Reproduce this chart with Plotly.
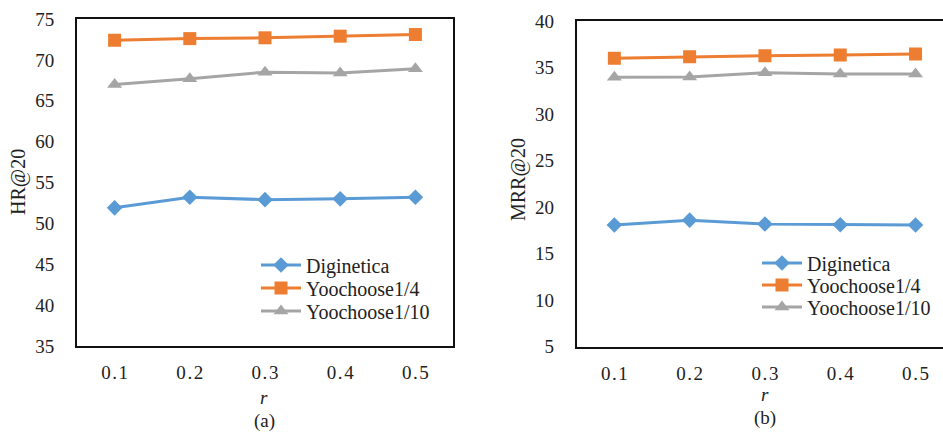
import plotly.graph_objects as go

r_labels = ["0.1", "0.2", "0.3", "0.4", "0.5"]
tick_text = ["0\u200a.\u200a1", "0\u200a.\u200a2", "0\u200a.\u200a3", "0\u200a.\u200a4", "0\u200a.\u200a5"]
series_names = ["Diginetica", "Yoochoose1/4", "Yoochoose1/10"]

hr_diginetica = [51.9, 53.2, 52.9, 53.0, 53.2]
hr_yoo4 = [72.4, 72.6, 72.7, 72.9, 73.1]
hr_yoo10 = [67.0, 67.7, 68.5, 68.4, 68.9]

mrr_diginetica = [18.08, 18.6, 18.18, 18.1, 18.08]
mrr_yoo4 = [36.0, 36.16, 36.27, 36.35, 36.45]
mrr_yoo10 = [33.95, 33.98, 34.44, 34.3, 34.3]

colors = ["#5B9BD5", "#ED7D31", "#A5A5A5"]
symbols = ["diamond", "square", "triangle-up"]
sizes = [12, 13, 13]

FONT = "Liberation Serif"
TXT = "#222222"
W, H = 943, 433

fig = go.Figure()

left_legends = ["legend", "legend2", "legend3"]
right_legends = ["legend4", "legend5", "legend6"]

for vals, name, c, s, sz, lg in zip([hr_diginetica, hr_yoo4, hr_yoo10], series_names, colors, symbols, sizes, left_legends):
    fig.add_trace(go.Scatter(x=r_labels, y=vals, name=name, mode="lines+markers",
                             line=dict(color=c, width=3),
                             marker=dict(symbol=s, size=sz, color=c),
                             xaxis="x", yaxis="y", legend=lg))
for vals, name, c, s, sz, lg in zip([mrr_diginetica, mrr_yoo4, mrr_yoo10], series_names, colors, symbols, sizes, right_legends):
    fig.add_trace(go.Scatter(x=r_labels, y=vals, name=name, mode="lines+markers",
                             line=dict(color=c, width=3),
                             marker=dict(symbol=s, size=sz, color=c),
                             xaxis="x2", yaxis="y2", legend=lg))


def xax(domain, rng, anchor):
    return dict(domain=domain, type="category", range=rng, showgrid=False, zeroline=False,
                showline=True, linecolor="#111111", linewidth=2, mirror=True, anchor=anchor,
                tickmode="array", tickvals=r_labels, ticktext=tick_text,
                ticks="", ticklabelstandoff=8, automargin=False,
                tickfont=dict(family=FONT, size=19, color=TXT), fixedrange=True)


def yax(domain, rng, anchor, mirror):
    return dict(domain=domain, range=rng, dtick=5, showgrid=False, zeroline=False,
                showline=True, linecolor="#111111", linewidth=2, mirror=mirror,
                ticks="", ticklabelstandoff=17, anchor=anchor, automargin=False,
                tickfont=dict(family=FONT, size=19, color=TXT), fixedrange=True)


left_x = [77 / W, 453 / W]
right_x = [576.7 / W, 1.0]
right_rng_end = -0.5 + (W - 576.7) / 75.3

layout = dict(
    width=W, height=H, autosize=False,
    margin=dict(l=0, r=0, t=0, b=0, pad=0),
    paper_bgcolor="white", plot_bgcolor="white",
    font=dict(family=FONT, color=TXT),
    xaxis=xax(left_x, [-0.5, 4.5], "y"),
    yaxis=yax([1 - 346 / H, 1 - 19 / H], [35, 75], "x", True),
    xaxis2=xax(right_x, [-0.5, right_rng_end], "y2"),
    yaxis2=yax([1 - 346.7 / H, 1 - 21 / H], [5, 40], "x2", False),
    showlegend=True,
)

legend_rows_left = [265, 288, 311]
legend_rows_right = [263, 285, 307]
for lg, yy in zip(left_legends, legend_rows_left):
    layout[lg] = dict(x=256 / W, y=1 - yy / H, xanchor="left", yanchor="middle",
                      bgcolor="rgba(0,0,0,0)", font=dict(family=FONT, size=20, color=TXT),
                      itemwidth=40, borderwidth=0)
for lg, yy in zip(right_legends, legend_rows_right):
    layout[lg] = dict(x=757 / W, y=1 - yy / H, xanchor="left", yanchor="middle",
                      bgcolor="rgba(0,0,0,0)", font=dict(family=FONT, size=20, color=TXT),
                      itemwidth=40, borderwidth=0)

fig.update_layout(**layout)

annotations = [
    dict(text="HR@20", x=18 / W, y=1 - 182 / H, textangle=-90, font=dict(size=20)),
    dict(text="MRR@20", x=518 / W, y=1 - 180 / H, textangle=-90, font=dict(size=20)),
    dict(text="<i>r</i>", x=264 / W, y=1 - 397 / H, font=dict(size=19)),
    dict(text="<i>r</i>", x=765 / W, y=1 - 394 / H, font=dict(size=19)),
    dict(text="(a)", x=264 / W, y=1 - 421 / H, font=dict(size=19)),
    dict(text="(b)", x=765 / W, y=1 - 418 / H, font=dict(size=19)),
]
for a in annotations:
    a.update(xref="paper", yref="paper", showarrow=False, xanchor="center", yanchor="middle")
    a["font"].update(family=FONT, color=TXT)
fig.update_layout(annotations=annotations)

fig.write_html(
    "out.html",
    config={"displayModeBar": False},
    post_script="document.body.style.margin='0px';document.body.style.overflow='hidden';",
)
